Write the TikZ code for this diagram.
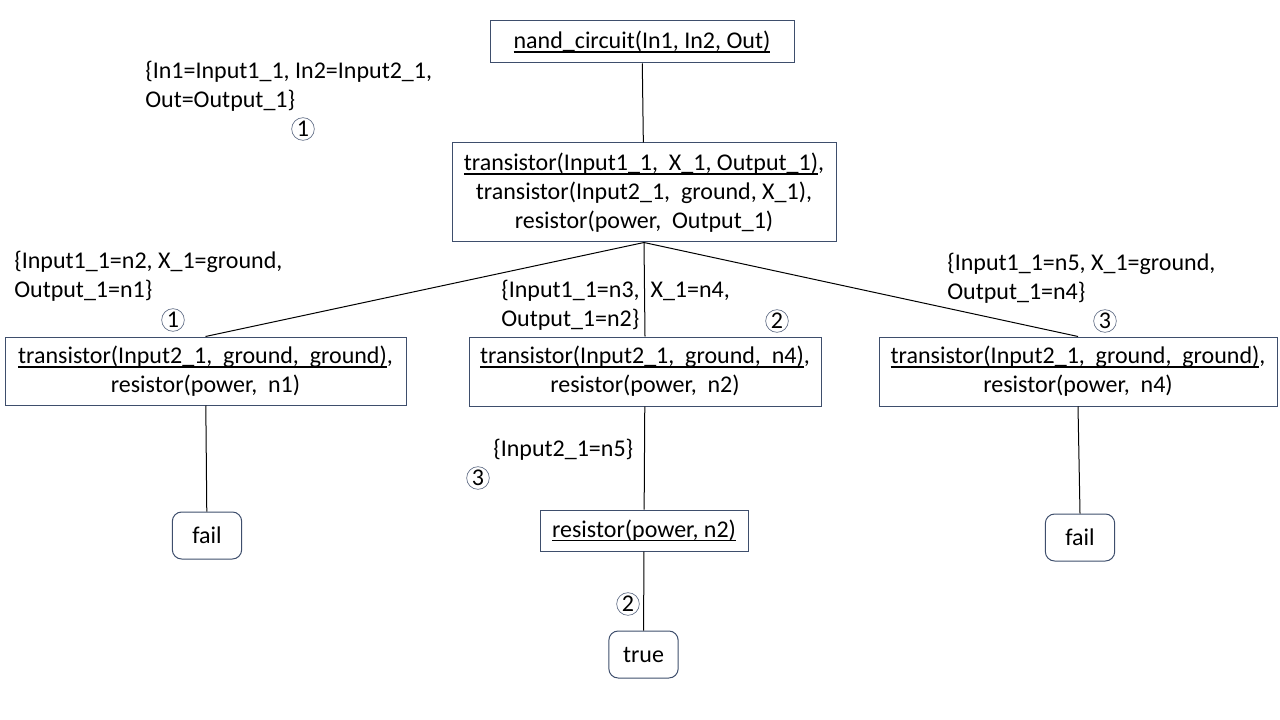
\documentclass[tikz,border=0pt]{standalone}
\usepackage{fontspec}
\setmainfont{Carlito}
\usepackage{xcolor}
\usetikzlibrary{positioning}
\definecolor{boxedge}{RGB}{62,78,108}
\newcommand{\ul}[1]{\leavevmode\setbox0\hbox{#1}\rlap{\rule[-3.2pt]{\wd0}{1.2pt}}\box0}
\newcommand{\gap}{\ \ }

\begin{document}
\begin{tikzpicture}[
    x=0.75pt,y=-0.75pt,
    every node/.style={font=\fontsize{18}{21.8}\selectfont},
    goal/.style={rectangle,draw=boxedge,line width=0.75pt,align=center,inner sep=0pt},
    leaf/.style={rectangle,rounded corners=7pt,draw=boxedge,line width=0.75pt,align=center,
      inner sep=0pt,minimum width=52pt,minimum height=35.25pt},
    subst/.style={align=left,inner sep=0pt,anchor=west},
    num/.style={circle,draw=boxedge!80,line width=0.5pt,inner sep=0pt,minimum size=17pt},
    edge/.style={line width=0.75pt}
  ]
    \useasboundingbox (0,0) rectangle (1280,720);
    % goals of the derivation tree
    \node[goal,minimum width=228pt,minimum height=31.5pt] (root) at (642,42)
      {\ul{nand\_circuit(In1, In2, Out)}};
    \node[goal,minimum width=288pt,minimum height=74.25pt] (body) at (644,192.5)
      {\ul{transistor(Input1\_1,\gap X\_1, Output\_1)},\\
       transistor(Input2\_1,\gap ground, X\_1),\\
       resistor(power,\gap Output\_1)};
    \node[goal,minimum width=300.75pt,minimum height=51pt] (left) at (205.5,371)
      {\ul{transistor(Input2\_1,\gap ground,\gap ground)},\\resistor(power,\gap n1)};
    \node[goal,minimum width=264pt,minimum height=51.75pt] (mid) at (645,371.5)
      {\ul{transistor(Input2\_1,\gap ground,\gap n4)},\\resistor(power,\gap n2)};
    \node[goal,minimum width=298.5pt,minimum height=51.75pt] (right) at (1078,371.5)
      {\ul{transistor(Input2\_1,\gap ground,\gap ground)},\\resistor(power,\gap n4)};
    \node[goal,minimum width=156pt,minimum height=30.75pt] (res) at (644,530.5)
      {\ul{resistor(power, n2)}};
    \node[leaf] (failL) at (207,535.5) {fail};
    \node[leaf] (failR) at (1080,537.5) {fail};
    \node[leaf] (ok) at (643.5,654.5) {true};
    % branches
    \draw[edge] (root) -- (body);
    \draw[edge] (body.south) -- (left.north);
    \draw[edge] (body.south) -- (mid.north);
    \draw[edge] (body.south) -- (right.north);
    \draw[edge] (left) -- (failL);
    \draw[edge] (mid) -- (res);
    \draw[edge] (res) -- (ok);
    \draw[edge] (right.south) -- (failR.north);
    % substitutions
    \node[subst] (s0) at (145,86) {\{In1=Input1\_1, In2=Input2\_1,\\Out=Output\_1\}};
    \node[subst] (s1) at (14,276.5) {\{Input1\_1=n2, X\_1=ground,\\Output\_1=n1\}};
    \node[subst] (s2) at (501,305.5) {\{Input1\_1=n3,\gap X\_1=n4,\\Output\_1=n2\}};
    \node[subst] (s3) at (947,278.5) {\{Input1\_1=n5, X\_1=ground,\\Output\_1=n4\}};
    \node[subst] (s4) at (493,450) {\{Input2\_1=n5\}};
    % clause numbers
    \node[num] (c0) at (303,129) {1};
    \node[num] (c1) at (173,320) {1};
    \node[num] (c2) at (777,321) {2};
    \node[num] (c3) at (1105,321) {3};
    \node[num] (c4) at (478,478) {3};
    \node[num] (c5) at (628,604) {2};
\end{tikzpicture}
\end{document}
